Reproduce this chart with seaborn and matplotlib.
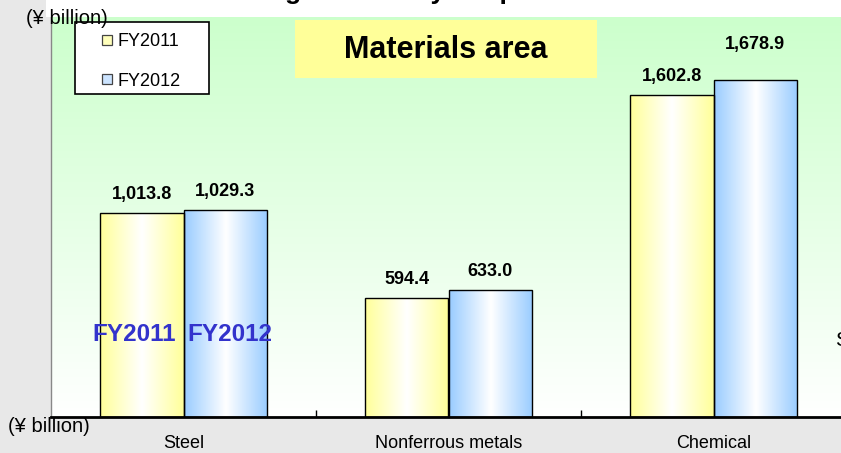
import numpy as np
import pandas as pd
import matplotlib
matplotlib.use("Agg")
import matplotlib.pyplot as plt
import seaborn as sns
from matplotlib.colors import LinearSegmentedColormap
from matplotlib.patches import Rectangle
from matplotlib.lines import Line2D

# ---- data ----
categories = ["Steel", "Nonferrous metals", "Chemical"]
years = ["FY2011", "FY2012"]
fy2011 = [1013.8, 594.4, 1602.8]
fy2012 = [1029.3, 633.0, 1678.9]
unit_label = "(¥ billion)"
panel_title = "Materials area"
page_title = "Ranking of sales by the products"
side_text = "S"

df = pd.DataFrame({
    "category": categories * 2,
    "year": [years[0]] * len(categories) + [years[1]] * len(categories),
    "value": fy2011 + fy2012,
})

YELLOW = "#ffff99"
BLUE = "#99ccff"

sns.set_theme(style="white")
plt.rcParams['font.family'] = ['Liberation Sans', 'DejaVu Sans']
plt.rcParams['text.color'] = 'black'
plt.rcParams['xtick.color'] = 'black'
plt.rcParams['xtick.labelcolor'] = 'black'

W, H = 841, 453
fig = plt.figure(figsize=(W / 100, H / 100), dpi=100, facecolor="#e8e8e8")


def fx(px):
    return px / W


def fy(py):
    return 1 - py / H


# white band at the top
fig.patches.append(Rectangle((fx(46), fy(17)), 1 - fx(46), 17 / H, transform=fig.transFigure,
                             facecolor="white", edgecolor="none", zorder=0))

ax = fig.add_axes([fx(51), fy(417), (846 - 51) / W, (417 - 17) / H])
ax.set_facecolor("white")

# green vertical gradient background
bg_cmap = LinearSegmentedColormap.from_list("bg", ["#ffffff", "#ccffcc"])
grad = np.linspace(0, 1, 256).reshape(-1, 1)
ax.imshow(grad, cmap=bg_cmap, origin="lower", extent=[0, 1, 0, 1], transform=ax.transAxes,
          aspect="auto", zorder=0, interpolation="bilinear")

sns.barplot(data=df, x="category", y="value", hue="year", order=categories, hue_order=years,
            palette=[YELLOW, BLUE], saturation=1, width=0.63, gap=0,
            edgecolor="black", linewidth=1.0, legend=False, ax=ax)

# horizontal gradient fill for each bar (white centre, coloured edges)
t = np.linspace(0, 1, 200)
prof = (np.abs(t - 0.5) / 0.5) ** 1.0
for container, col in zip(ax.containers, [YELLOW, BLUE]):
    cm = LinearSegmentedColormap.from_list("b", ["#ffffff", col])
    for p in container.patches:
        x0, y0 = p.get_x(), p.get_y()
        w, h = p.get_width(), p.get_height()
        im = ax.imshow(prof.reshape(1, -1), cmap=cm, vmin=0, vmax=1,
                       extent=[x0, x0 + w, y0, y0 + h], aspect="auto", zorder=2.5,
                       interpolation="bilinear")
        im.set_clip_path(p)
        p.set_facecolor("none")
        p.set_zorder(3)

# value labels
for i, container in enumerate(ax.containers):
    texts = ax.bar_label(container, labels=[f"{v:,.1f}" for v in container.datavalues],
                         padding=7, fontsize=13, fontweight="bold", color="black")
    if i == 1:
        texts[-1].xyann = (0, 19)

ax.set_xlim(-0.5, 2.5)
ax.set_ylim(0, 1990)
ax.set_xlabel("")
ax.set_ylabel("")
ax.set_yticks([])
ax.set_xticks(range(len(categories)))
ax.set_xticklabels(categories, fontsize=13, color="black")
ax.set_xticks([0.5, 1.5], minor=True)
ax.tick_params(axis="x", which="major", length=0, pad=13, colors="black")
ax.tick_params(axis="x", which="minor", length=5, direction="in", width=1, color="black", bottom=True)
for s in ["top", "right"]:
    ax.spines[s].set_visible(False)
ax.spines["bottom"].set_color("black")
ax.spines["bottom"].set_linewidth(2)
ax.spines["left"].set_color("#888888")
ax.spines["left"].set_linewidth(1)

# blue FY labels over the Steel bars
ax.text(-0.185, 412, years[0], color="#3333cc", fontsize=17.5, fontweight="bold",
        ha="center", va="center", zorder=5)
ax.text(0.174, 412, years[1], color="#3333cc", fontsize=17.5, fontweight="bold",
        ha="center", va="center", zorder=5)

# panel title box
fig.patches.append(Rectangle((fx(295), fy(78)), (597 - 295) / W, (78 - 20) / H,
                             transform=fig.transFigure, facecolor="#ffff99",
                             edgecolor="none", zorder=2))
fig.text(fx(446), fy(50), panel_title, fontsize=22, fontweight="bold", ha="center",
         va="center", color="black", zorder=3)

# legend box + legend
fig.patches.append(Rectangle((fx(75), fy(94)), (209 - 75) / W, (94 - 22) / H,
                             transform=fig.transFigure, facecolor="white",
                             edgecolor="black", linewidth=1.2, zorder=4))
handles = [Line2D([], [], marker="s", linestyle="none", markersize=6.5,
                  markerfacecolor=c, markeredgecolor="#444444", markeredgewidth=0.9)
           for c in ["#ffffbb", "#cce4ff"]]
fig.legend(handles, years, loc="upper left", bbox_to_anchor=(fx(100), fy(33)),
           bbox_transform=fig.transFigure, frameon=False, fontsize=13,
           handlelength=0.8, handletextpad=0.15, labelspacing=1.25, borderpad=0,
           borderaxespad=0, labelcolor="black")

# unit labels
fig.text(fx(26), fy(18), unit_label, fontsize=14.5, ha="left", va="center", color="black", zorder=6)
fig.text(fx(8), fy(426), unit_label, fontsize=14.5, ha="left", va="center", color="black", zorder=6)

# cut-off page title and side text
fig.text(fx(197), 1 + 1.5 / H, page_title, fontsize=19, fontweight="bold",
         ha="left", va="baseline", color="black", zorder=6)
fig.text(fx(835), fy(341), side_text, fontsize=15, ha="left", va="center", color="black", zorder=6)

fig.savefig("out.png", dpi=100, facecolor=fig.get_facecolor())
